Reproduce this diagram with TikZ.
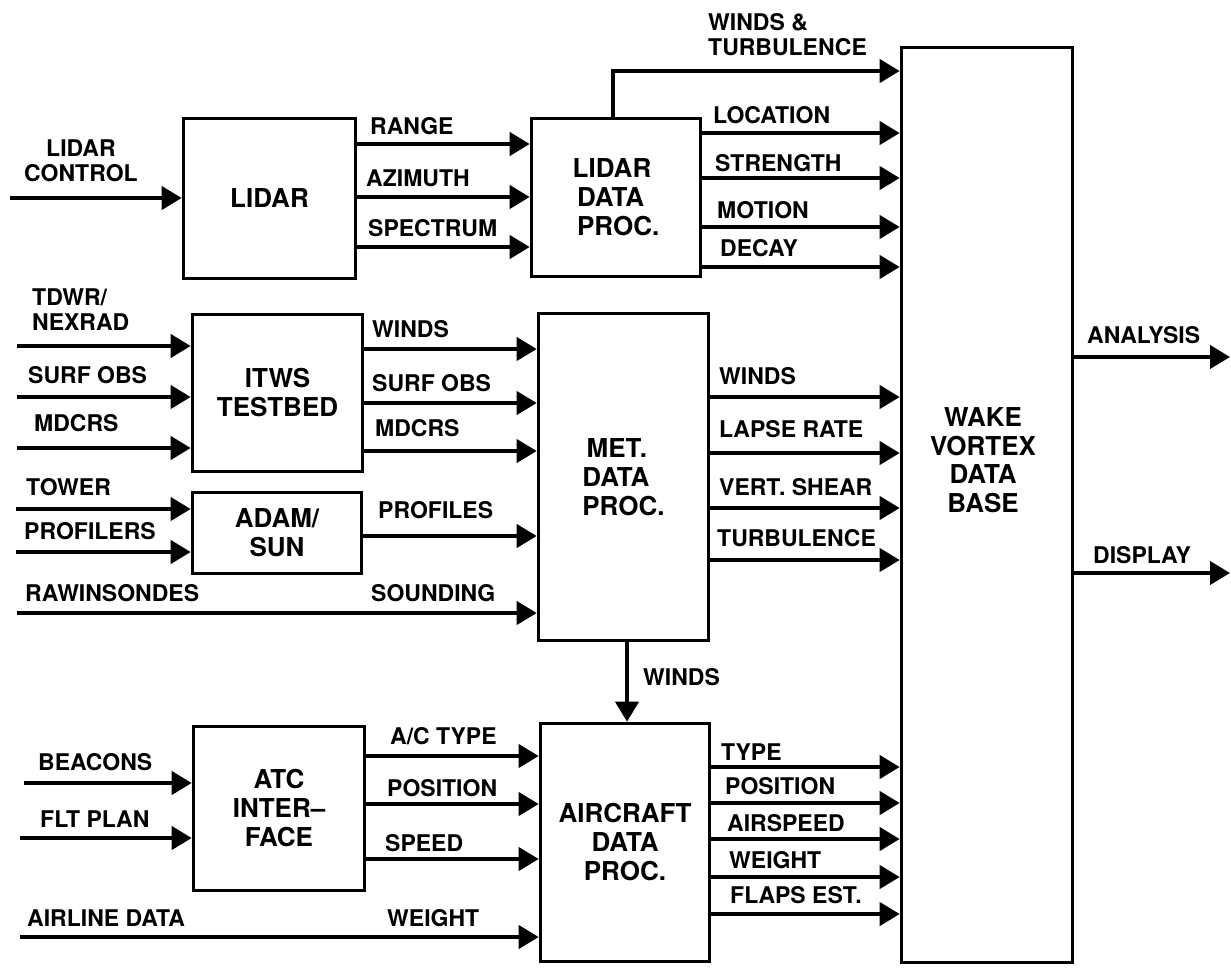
\documentclass[tikz,border=0pt]{standalone}
\usepackage{fontspec}
\setmainfont{TeX Gyre Heros}
\usetikzlibrary{arrows.meta}

\begin{document}
\begin{tikzpicture}[
  x=1pt, y=-1pt,
  blk/.style={
    draw,
    line width=3.6pt,
    align=center,
    inner sep=0pt,
    font=\bfseries\fontsize{26}{29}\selectfont
  },
  lab/.style={anchor=west, inner sep=0pt, text height=16.5pt, text depth=0pt,
    font=\bfseries\fontsize{23}{25}\selectfont},
  labm/.style={anchor=west, inner sep=0pt, align=left,
    font=\bfseries\fontsize{23}{25}\selectfont},
  arrow/.style={-{Triangle[length=20pt, width=23pt]}, line width=4pt}
]
  \useasboundingbox (0,0) rectangle (1231,967);

  % Blocks
  \node (lidar) [blk, minimum width=172pt, minimum height=160pt] at (269.5,198.5) {LIDAR};
  \node (ldp)   [blk, align=left, minimum width=169pt, minimum height=158pt] at (616,197.5) {LIDAR\\\,DATA\\\,PROC.};
  \node (itws)  [blk, minimum width=170pt, minimum height=157pt] at (277.5,393) {ITWS\\TESTBED};
  \node (adam)  [blk, minimum width=169pt, minimum height=81pt]  at (277,533) {ADAM/\\SUN};
  \node (met)   [blk, align=left, minimum width=170pt, minimum height=327pt] at (623.5,477) {\,MET.\\DATA\\PROC.};
  \node (atc)   [blk, minimum width=171pt, minimum height=164pt] at (279,808.5) {ATC\\INTER--\\FACE};
  \node (acft)  [blk, minimum width=169pt, minimum height=238pt] at (625,842.5) {AIRCRAFT\\DATA\\PROC.};
  \node (wwdb)  [blk, minimum width=171pt, minimum height=915pt] at (987,505) {};
  \node (wwdbtxt) [align=center, font=\bfseries\fontsize{26}{28.5}\selectfont] at (983,460) {WAKE\\VORTEX\\DATA\\BASE};

  % Free ends
  \coordinate (lc)  at (10,198);
  \coordinate (raw) at (17,613);
  \coordinate (air) at (20,937);
  \coordinate (wt)  at (613,71);
  \coordinate (ana) at (1230,357);
  \coordinate (dsp) at (1230,573);
  \coordinate (wnd) at (627,0);

  % Arrows
  \draw [arrow] (lc) -- (lidar.west |- lc);
  \foreach \y in {144,197,247}
    \draw [arrow] (lidar.east |- 0,\y) -- (ldp.west |- 0,\y);
  \draw [arrow] (ldp.north -| wt) |- (wwdb.west |- wt);
  \foreach \y in {133,178,227,267}
    \draw [arrow] (ldp.east |- 0,\y) -- (wwdb.west |- 0,\y);

  \foreach \y [count=\i] in {346,397,448} {
    \coordinate (it\i) at (17,\y);
    \draw [arrow] (it\i) -- (itws.west |- it\i);
  }
  \foreach \y [count=\i] in {509,552} {
    \coordinate (ad\i) at (16,\y);
    \draw [arrow] (ad\i) -- (adam.west |- ad\i);
  }
  \foreach \y in {349,403,451}
    \draw [arrow] (itws.east |- 0,\y) -- (met.west |- 0,\y);
  \draw [arrow] (adam.east |- 0,536) -- (met.west |- 0,536);
  \draw [arrow] (raw) -- (met.west |- raw);
  \foreach \y in {397,453,508,560}
    \draw [arrow] (met.east |- 0,\y) -- (wwdb.west |- 0,\y);
  \draw [arrow] (met.south -| wnd) -- (acft.north -| wnd);

  \foreach \x/\y [count=\i] in {24/783,20/838} {
    \coordinate (at\i) at (\x,\y);
    \draw [arrow] (at\i) -- (atc.west |- at\i);
  }
  \foreach \y in {756,804,859}
    \draw [arrow] (atc.east |- 0,\y) -- (acft.west |- 0,\y);
  \draw [arrow] (air) -- (acft.west |- air);
  \foreach \y in {767,803,839,877,914}
    \draw [arrow] (acft.east |- 0,\y) -- (wwdb.west |- 0,\y);

  \draw [arrow] (wwdb.east |- ana) -- (ana);
  \draw [arrow] (wwdb.east |- dsp) -- (dsp);

  % Labels
  \node (tlc) [labm, align=center] at (24,160.5) {LIDAR\\CONTROL};
  \node (twt) [labm] at (708,34.5) {WINDS \&\\TURBULENCE};
  \node (ttd) [labm] at (32,310) {TDWR/\\NEXRAD};
  \foreach \x/\y/\t [count=\i] in {
      370/126/RANGE, 366/178/AZIMUTH, 368/228/SPECTRUM,
      713/115/LOCATION, 715/163/STRENGTH, 717/210/MOTION, 720/248/DECAY,
      28/375/SURF OBS, 34/423/MDCRS,
      372/329/WINDS, 372/383/SURF OBS, 375/428/MDCRS,
      26/487/TOWER, 24/531/PROFILERS, 378/510/PROFILES,
      25/593/RAWINSONDES, 371/593/SOUNDING,
      719/376/WINDS, 719/429/LAPSE RATE, 719/487/VERT. SHEAR, 717/538/TURBULENCE,
      1087/335/ANALYSIS, 1093/555/DISPLAY, 643/677/WINDS,
      38/762/BEACONS, 40/819/FLT PLAN,
      390/736/{A/C TYPE}, 387/788/POSITION, 385/843/SPEED,
      27/918/AIRLINE DATA, 387/918/WEIGHT,
      721/752/TYPE, 725/786/POSITION, 727/823/AIRSPEED, 729/860/WEIGHT,
      730/895/FLAPS EST.}
    \node (t\i) [lab] at (\x,\y) {\t};

\end{tikzpicture}
\end{document}
